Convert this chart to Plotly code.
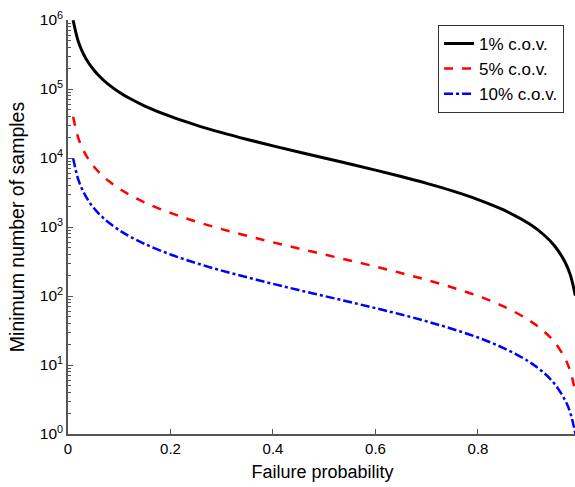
import plotly.graph_objects as go

# Failure probability values (x)
p = [0.01, 0.02, 0.03, 0.04, 0.05, 0.06, 0.07, 0.08, 0.10, 0.12, 0.15, 0.20, 0.25, 0.30,
     0.35, 0.40, 0.45, 0.50, 0.55, 0.60, 0.65, 0.70, 0.75, 0.80, 0.85, 0.90, 0.93, 0.95,
     0.97, 0.98, 0.99]

# Minimum number of samples per c.o.v. level
n_cov1 = [990000, 490000, 323333, 240000, 190000, 156667, 132857, 115000, 90000, 73333,
          56667, 40000, 30000, 23333, 18571, 15000, 12222, 10000, 8182, 6667, 5385, 4286,
          3333, 2500, 1765, 1111, 753, 526, 309, 204, 101]
n_cov5 = [39600, 19600, 12933, 9600, 7600, 6267, 5314, 4600, 3600, 2933, 2267, 1600, 1200,
          933, 743, 600, 489, 400, 327, 267, 215, 171, 133, 100, 70.6, 44.4, 30.1, 21.1,
          12.4, 8.16, 4.04]
n_cov10 = [9900, 4900, 3233, 2400, 1900, 1567, 1329, 1150, 900, 733, 567, 400, 300, 233,
           186, 150, 122, 100, 81.8, 66.7, 53.9, 42.9, 33.3, 25.0, 17.6, 11.1, 7.53, 5.26,
           3.09, 2.04, 1.01]

series_names = ["1% c.o.v.", "5% c.o.v.", "10% c.o.v."]
x_ticks = [0, 0.2, 0.4, 0.6, 0.8]
x_tick_labels = ["0", "0.2", "0.4", "0.6", "0.8"]
y_exponents = [0, 1, 2, 3, 4, 5, 6]

FONT = "Liberation Sans, Arial, sans-serif"
AXC = "#555555"

fig = go.Figure()
styles = [("black", "solid", 3), ("#ff0000", "dash", 2.5), ("#0000ff", "dashdot", 2.5)]
for name, ys, (col, dash, w) in zip(series_names, [n_cov1, n_cov5, n_cov10], styles):
    fig.add_trace(go.Scatter(x=p, y=ys, mode="lines", name=name,
                             line=dict(color=col, dash=dash, width=w, shape="spline")))

y_tickvals = [10 ** e for e in y_exponents]
y_ticktext = ["10<sup>%d</sup>" % e for e in y_exponents]
minor_vals = [m * 10 ** e for e in y_exponents[:-1] for m in range(2, 10)]

# the plot area runs slightly past the window's right edge, as in the reference crop
fig.update_layout(
    width=577, height=487,
    margin=dict(l=68, r=0, t=20, b=53, autoexpand=False),
    paper_bgcolor="white", plot_bgcolor="white",
    font=dict(family=FONT, size=15, color="black"),
    showlegend=True,
    legend=dict(x=0.727, y=0.988, xanchor="left", yanchor="top",
                bordercolor="#333333", borderwidth=1, bgcolor="white",
                font=dict(size=17, family=FONT, color="black"), tracegroupgap=0,
                itemwidth=30),
)
fig.update_xaxes(
    range=[0, 0.9932], tickvals=x_ticks, ticktext=x_tick_labels,
    showgrid=False, zeroline=False, showline=True, linecolor=AXC, linewidth=1.5,
    ticks="inside", ticklen=5, tickcolor=AXC,
    tickfont=dict(size=15, family=FONT),
    title=dict(text="Failure probability", font=dict(size=18, family=FONT), standoff=10),
    automargin=False,
)
fig.update_yaxes(
    type="log", range=[0, 6], tickvals=y_tickvals, ticktext=y_ticktext,
    showgrid=False, zeroline=False, showline=True, linecolor=AXC, linewidth=1.5,
    ticks="inside", ticklen=5, tickcolor=AXC,
    tickfont=dict(size=15.5, family=FONT),
    minor=dict(ticks="inside", ticklen=3, tickcolor=AXC, tickvals=minor_vals, showgrid=False),
    title=dict(text="Minimum number of samples", font=dict(size=19.5, family=FONT), standoff=10),
    automargin=False,
)

fig.write_html(
    "out.html",
    config={"displayModeBar": False},
    post_script="document.body.style.margin='0';document.body.style.overflow='hidden';",
)
